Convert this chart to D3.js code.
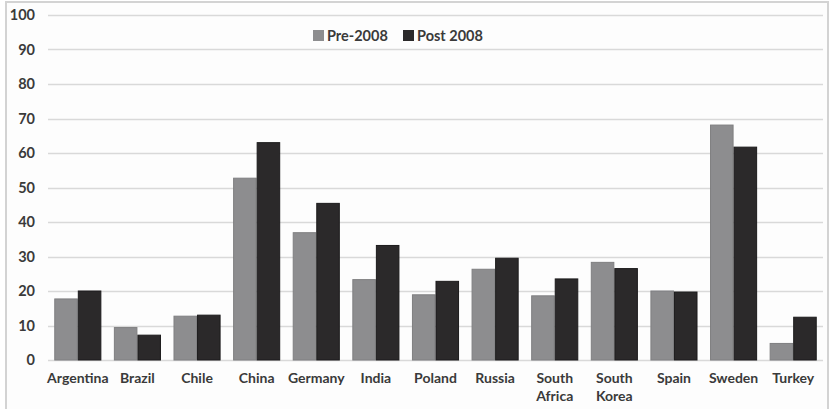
<!DOCTYPE html>
<html>
<head>
<meta charset="utf-8">
<script src="https://cdn.jsdelivr.net/npm/d3@7"></script>
<style>
  html, body { margin: 0; padding: 0; background: #ffffff; }
  svg { display: block; }
  text { font-family: Lato, "Open Sans", sans-serif; font-weight: bold; fill: #3a3a3a; }
</style>
</head>
<body>
<svg id="chart" width="834" height="409"></svg>
<script>
// Countries along the x axis
const categories = ["Argentina", "Brazil", "Chile", "China", "Germany", "India", "Poland",
  "Russia", "South Africa", "South Korea", "Spain", "Sweden", "Turkey"];
// Series names and values
const seriesNames = ["Pre-2008", "Post 2008"];
const pre2008  = [17.7, 9.4, 12.7, 52.7, 36.9, 23.3, 18.9, 26.3, 18.6, 28.3, 20.0, 68.1, 4.8];
const post2008 = [20.0, 7.2, 13.0, 63.0, 45.4, 33.2, 22.8, 29.5, 23.5, 26.5, 19.7, 61.7, 12.4];
// Y-axis ticks
const yTicks = [0, 10, 20, 30, 40, 50, 60, 70, 80, 90, 100];

const colors = ["#8d8d8f", "#2b292a"];
const strokes = ["#7f7f81", "#1c1b1c"];

const svg = d3.select("#chart");

// Outer frame
svg.append("rect")
  .attr("x", 6).attr("y", 2).attr("width", 822).attr("height", 440)
  .attr("fill", "#fdfdfd").attr("stroke", "#d3d3d3").attr("stroke-width", 2);

const x = d3.scaleBand().domain(categories).range([48, 823])
  .paddingInner(0.21).paddingOuter(0.105);
const xs = d3.scaleBand().domain(seriesNames).range([0, x.bandwidth()]).padding(0);
const y = d3.scaleLinear().domain([0, 100]).range([360, 15]);

// Gridlines
svg.append("g").selectAll("line").data(yTicks).join("line")
  .attr("x1", 48).attr("x2", 823)
  .attr("y1", d => Math.round(y(d)) + 0.5).attr("y2", d => Math.round(y(d)) + 0.5)
  .attr("stroke", "#d9d9d9").attr("stroke-width", 1.5);

// Y-axis labels
const yAxis = d3.axisLeft(y).tickValues(yTicks).tickSize(0).tickPadding(0);
const gy = svg.append("g").attr("transform", "translate(35,0)").call(yAxis);
gy.select(".domain").remove();
gy.selectAll("text").attr("font-size", 14.5).attr("fill", "#3a3a3a")
  .style("font-family", "Lato, sans-serif").style("font-weight", "bold");

// Bars
const rows = categories.map((c, i) => ({ c, vals: [pre2008[i], post2008[i]] }));
const groups = svg.append("g").selectAll("g").data(rows).join("g")
  .attr("transform", d => `translate(${x(d.c)},0)`);
groups.selectAll("rect")
  .data(d => d.vals.map((v, j) => ({ v, j })))
  .join("rect")
  .attr("x", d => xs(seriesNames[d.j]) + 0.5)
  .attr("width", xs.bandwidth() - 1)
  .attr("y", d => y(d.v))
  .attr("height", d => y(0) - y(d.v))
  .attr("fill", d => colors[d.j])
  .attr("stroke", d => strokes[d.j])
  .attr("stroke-width", 1);

// X-axis labels (wrapped onto two lines where needed)
const labels = svg.append("g").selectAll("text").data(categories).join("text")
  .attr("text-anchor", "middle")
  .attr("font-size", 14)
  .attr("x", d => x(d) + x.bandwidth() / 2)
  .attr("y", 383);
labels.each(function(d) {
  const words = d.split(" ");
  const t = d3.select(this);
  words.forEach((w, k) => {
    t.append("tspan").attr("x", x(d) + x.bandwidth() / 2)
      .attr("dy", k === 0 ? 0 : 17.5).text(w);
  });
});

// Legend
const legendItems = [
  { name: seriesNames[0], sx: 313, tx: 327 },
  { name: seriesNames[1], sx: 403, tx: 417 }
];
const lg = svg.append("g");
lg.selectAll("rect").data(legendItems).join("rect")
  .attr("x", d => d.sx).attr("y", 30).attr("width", 11).attr("height", 11)
  .attr("fill", (d, i) => colors[i]);
lg.selectAll("text").data(legendItems).join("text")
  .attr("x", d => d.tx).attr("y", 40.5).attr("font-size", 14.5)
  .text(d => d.name);
</script>
</body>
</html>
